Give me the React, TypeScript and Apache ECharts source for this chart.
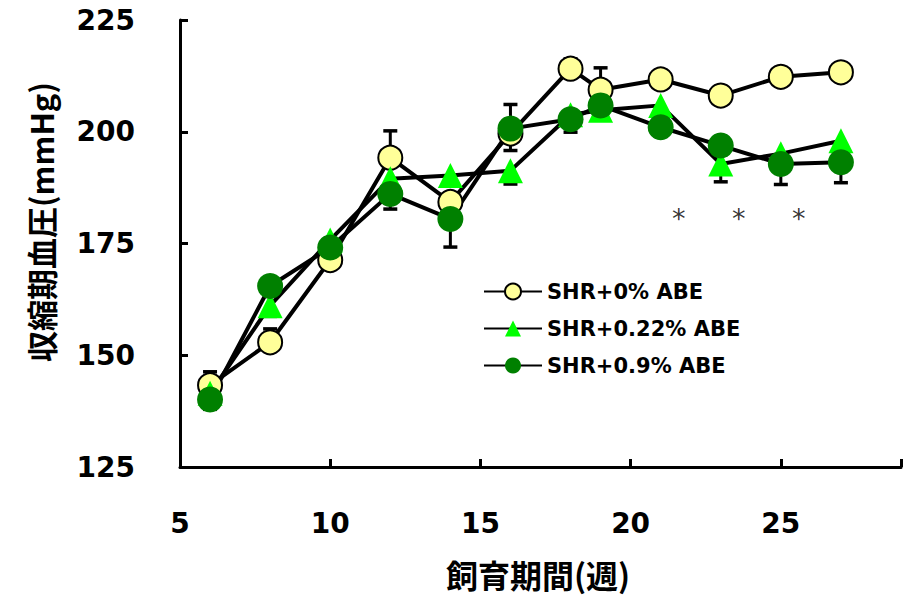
import React, { useEffect, useRef } from "react";
import * as echarts from "echarts";

const weeks = [6, 8, 10, 12, 14, 16, 18, 19, 21, 23, 25, 27];
const seriesNames = ["SHR+0% ABE", "SHR+0.22% ABE", "SHR+0.9% ABE"];
const shr0 = [143.3, 152.9, 171.3, 194.2, 184.3, 199.6, 214.1, 209.4, 211.7, 208.1, 212.3, 213.3];
const shr0Err = [3, 3, 2, 6, 2, 6.5, 2.2, 4.9, 2, 1.5, 2, 1.5];
const shr022 = [141.5, 161.1, 175.8, 189.5, 190.2, 191.3, 203.8, 204.8, 205.9, 192.8, 195.1, 198.0];
const shr022Err = [2, 2.4, 2, 2, 2, 3, 2, 2, 2, 4, 2, 2];
const shr09 = [140.1, 165.5, 174.1, 186.1, 180.5, 200.7, 202.8, 205.9, 201.0, 196.9, 192.8, 193.2];
const shr09Err = [2.2, 2, 2, 3.4, 6.3, 4.9, 2.9, 2, 2, 2, 4.6, 4.6];
const starWeeks = [21.6, 23.6, 25.6];
const starLevel = 180.6;
const xTitle = "飼育期間(週)";
const yTitle = "収縮期血圧(mmHg)";

const NUM_FONT = "DejaVu Sans";
const CJK_FONT = "'Noto Sans CJK JP'";

function errorSeries(values: number[], errs: number[], dir: number, name: string) {
  return {
    type: "custom",
    name: name + "-err",
    z: 1,
    silent: true,
    data: weeks.map((w, i) => [w, values[i], values[i] + dir * errs[i]]),
    renderItem: (params: any, api: any) => {
      const p0 = api.coord([api.value(0), api.value(1)]);
      const p1 = api.coord([api.value(0), api.value(2)]);
      const half = 7;
      return {
        type: "group",
        children: [
          {
            type: "line",
            shape: { x1: p0[0], y1: p0[1], x2: p1[0], y2: p1[1] },
            style: { stroke: "#000", lineWidth: 3 },
          },
          {
            type: "line",
            shape: { x1: p1[0] - half, y1: p1[1], x2: p1[0] + half, y2: p1[1] },
            style: { stroke: "#000", lineWidth: 3.5 },
          },
        ],
      };
    },
  };
}

export default function App() {
  const ref = useRef<HTMLDivElement>(null);
  useEffect(() => {
    if (!ref.current) return;
    const chart = echarts.init(ref.current, null, { renderer: "svg" });
    const lineCommon = {
      type: "line",
      z: 2,
      showAllSymbol: true,
      lineStyle: { color: "#000", width: 4 },
    };
    chart.setOption({
      animation: false,
      backgroundColor: "#fff",
      grid: { left: 180, top: 20, right: 1, bottom: 132 },
      legend: {
        data: seriesNames,
        orient: "vertical",
        left: 483,
        top: 281,
        padding: 0,
        itemWidth: 58,
        itemHeight: 20,
        itemGap: 16,
        textStyle: { fontFamily: NUM_FONT, fontWeight: "bold", fontSize: 21, color: "#000" },
      },
      xAxis: {
        type: "value",
        min: 5,
        max: 29,
        interval: 5,
        splitLine: { show: false },
        axisLine: { show: true, lineStyle: { color: "#000", width: 3 } },
        axisTick: { show: true, inside: true, length: 8, lineStyle: { color: "#000", width: 3 } },
        axisLabel: {
          margin: 42,
          fontFamily: NUM_FONT,
          fontWeight: "bold",
          fontSize: 28,
          color: "#000",
          formatter: (v: number) => (v % 5 === 0 ? String(v) : ""),
        },
      },
      yAxis: {
        type: "value",
        min: 125,
        max: 225,
        interval: 25,
        splitLine: { show: false },
        axisLine: { show: true, lineStyle: { color: "#000", width: 3 } },
        axisTick: { show: true, inside: true, length: 8, lineStyle: { color: "#000", width: 3 } },
        axisLabel: {
          margin: 45,
          fontFamily: NUM_FONT,
          fontWeight: "bold",
          fontSize: 28,
          color: "#000",
        },
      },
      graphic: [
        {
          type: "text",
          x: 40,
          y: 222,
          rotation: Math.PI / 2,
          style: {
            text: yTitle,
            align: "center",
            verticalAlign: "middle",
            fontFamily: CJK_FONT,
            fontWeight: "bold",
            fontSize: 31,
            fill: "#000",
          },
        },
        {
          type: "text",
          x: 538,
          y: 574,
          style: {
            text: xTitle,
            align: "center",
            verticalAlign: "middle",
            fontFamily: CJK_FONT,
            fontWeight: "bold",
            fontSize: 32,
            fill: "#000",
          },
        },
      ],
      series: [
        errorSeries(shr0, shr0Err, 1, seriesNames[0]),
        errorSeries(shr022, shr022Err, -1, seriesNames[1]),
        errorSeries(shr09, shr09Err, -1, seriesNames[2]),
        {
          ...lineCommon,
          name: seriesNames[0],
          data: weeks.map((w, i) => [w, shr0[i]]),
          symbol: "circle",
          symbolSize: 24,
          itemStyle: { color: "#FFFF99", borderColor: "#000", borderWidth: 2 },
        },
        {
          ...lineCommon,
          name: seriesNames[1],
          data: weeks.map((w, i) => [w, shr022[i]]),
          symbol: "triangle",
          symbolSize: 25,
          itemStyle: { color: "#00FF00", borderWidth: 0 },
        },
        {
          ...lineCommon,
          name: seriesNames[2],
          data: weeks.map((w, i) => [w, shr09[i]]),
          symbol: "circle",
          symbolSize: 26,
          itemStyle: { color: "#008000", borderWidth: 0 },
        },
        {
          type: "scatter",
          name: "sig",
          z: 3,
          silent: true,
          symbolSize: 0,
          itemStyle: { color: "#000" },
          data: starWeeks.map((w) => [w, starLevel]),
          label: {
            show: true,
            position: "inside",
            formatter: "*",
            fontFamily: NUM_FONT,
            fontSize: 27,
            color: "#000",
            textBorderWidth: 0,
          },
        },
      ],
    });
    return () => chart.dispose();
  }, []);
  return (
    <div
      ref={ref}
      style={{ position: "fixed", left: 0, top: 0, width: 904, height: 599, background: "#fff" }}
    />
  );
}
